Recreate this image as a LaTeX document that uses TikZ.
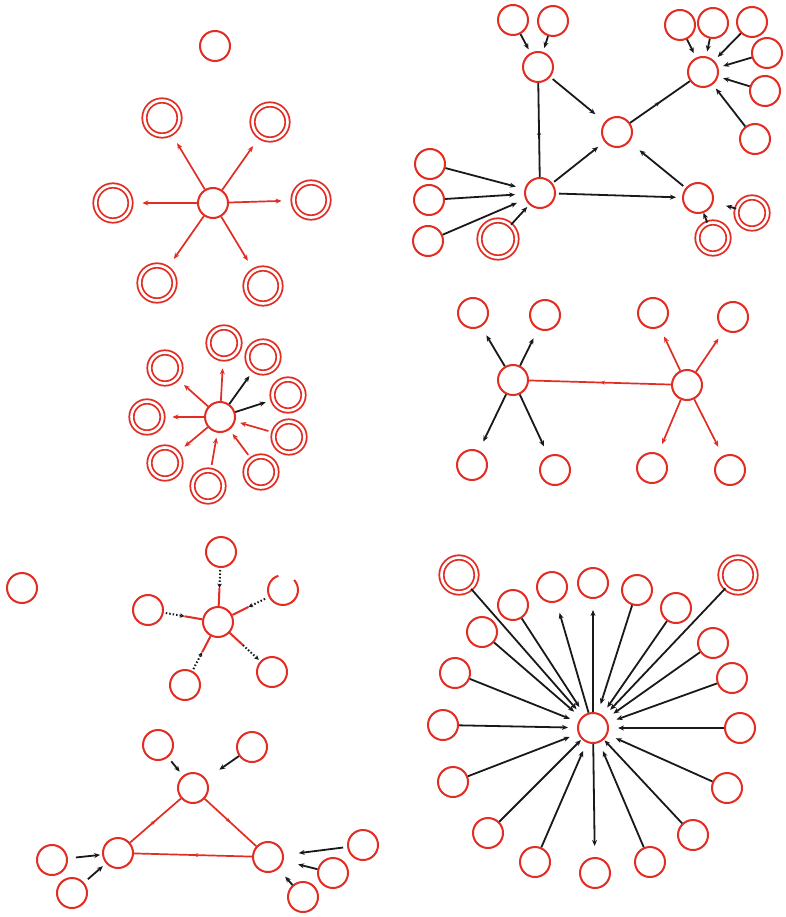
\documentclass[tikz,border=0pt]{standalone}
\usetikzlibrary{arrows.meta,decorations.markings,calc}
\definecolor{rd}{RGB}{226,45,35}
\definecolor{bk}{RGB}{25,25,25}
\tikzset{
 nd/.style={circle,draw=rd,line width=2pt,minimum size=30pt,inner sep=0pt,fill=white},
 dnd/.style={circle,draw=rd,double=white,double distance=2.6pt,line width=1.8pt,minimum size=35pt,inner sep=0pt},
 dns/.style={dnd,minimum size=31pt},
 ra/.style={rd,line width=1.7pt,-{Stealth[length=6pt,width=5pt]}},
 ba/.style={bk,line width=1.8pt,-{Stealth[length=6pt,width=5pt]}},
 rl/.style={rd,line width=1.7pt},
 bl/.style={bk,line width=1.8pt},
 midarr/.style={postaction={decorate},decoration={markings,mark=at position 0.5 with {\arrow{Stealth[length=5pt,width=4pt]}}}},
 dotarr/.style={bk,line width=2pt,dash pattern=on 1.5pt off 2pt,-{Stealth[length=4.5pt,width=4.5pt]}},
 gapc/.style={rd,line width=2pt}
}
\begin{document}
\begin{tikzpicture}[x=1pt,y=-1pt]
\useasboundingbox (0,0) rectangle (785,917);
\fill[white] (0,0) rectangle (785,917);

% ---------- Panel 1 ----------
\node[nd] (p1top) at (215,46) {};
\node[nd] (p1c) at (213,203) {};
\node[dnd] (p1a) at (162,118) {};
\node[dnd] (p1b) at (270,122) {};
\node[dnd] (p1d) at (113,203) {};
\node[dnd] (p1e) at (311,200) {};
\node[dnd] (p1f) at (157,283) {};
\node[dnd] (p1g) at (263,286) {};
\foreach \t in {a,b,d,e,f,g}{\draw[ra,shorten >=11pt] (p1c) -- (p1\t);}

% ---------- Panel 2 ----------
\node[nd] (p2s1) at (513,20) {};
\node[nd] (p2s2) at (553,21) {};
\node[nd] (p2A) at (538,67) {};
\node[nd] (p2B) at (703,72) {};
\node[nd] (p2b1) at (680,25) {};
\node[nd] (p2b2) at (713,23) {};
\node[nd] (p2b3) at (752,22) {};
\node[nd] (p2b4) at (767,53) {};
\node[nd] (p2b5) at (765,91) {};
\node[nd] (p2b6) at (755,139) {};
\node[nd] (p2C) at (617,132) {};
\node[nd] (p2D) at (540,193) {};
\node[nd] (p2E) at (698,198) {};
\node[nd] (p2l1) at (430,164) {};
\node[nd] (p2l2) at (429,200) {};
\node[nd] (p2l3) at (428,241) {};
\node[dnd,minimum size=37pt] (p2dd) at (498,239) {};
\node[dns] (p2e1) at (752,213) {};
\node[dns] (p2e2) at (713,238) {};
\draw[ba,shorten >=4pt] (p2s1) -- (p2A);
\draw[ba,shorten >=4pt] (p2s2) -- (p2A);
\draw[ba,shorten >=12pt,shorten <=3pt] (p2A) -- (p2C);
\draw[ba,shorten >=8pt,shorten <=2pt] (p2D) -- (p2C);
\draw[ba,shorten >=13pt,shorten <=3pt] (p2E) -- (p2C);
\draw[ba,shorten >=6pt,shorten <=3pt] (p2D) -- (p2E);
\draw[bl,midarr] (p2D) -- (p2A);
\draw[bl,midarr] (p2C) -- (p2B);
\foreach \t in {1,2,3}{\draw[ba,shorten >=9pt] (p2l\t) -- (p2D);}
\draw[ba,shorten >=3pt] (p2dd) -- (p2D);
\foreach \t in {1,...,6}{\draw[ba,shorten >=5pt] (p2b\t) -- (p2B);}
\coordinate (p2x1) at ($(p2e1)!27pt!(p2E)$);
\coordinate (p2x2) at ($(p2e2)!27pt!(p2E)$);
\draw[ba] (p2e1) -- (p2x1);
\draw[ba] (p2e2) -- (p2x2);

% ---------- Panel 3 ----------
\node[nd] (p3c) at (220,417) {};
\node[dns] (p3n1) at (224,343) {};
\node[dns] (p3n2) at (263,357) {};
\node[dns] (p3n3) at (288,395) {};
\node[dns] (p3n4) at (289,437) {};
\node[dns] (p3n5) at (261,472) {};
\node[dns] (p3n6) at (208,486) {};
\node[dns] (p3n7) at (165,463) {};
\node[dns] (p3n8) at (147,417) {};
\node[dns] (p3n9) at (165,368) {};
\foreach \t in {1,7,8,9}{\draw[ra,shorten >=9pt] (p3c) -- (p3n\t);}
\foreach \t in {2,3}{\draw[ba,shorten >=7pt] (p3c) -- (p3n\t);}
\foreach \t in {4,5,6}{\draw[ra,shorten >=5pt,shorten <=5pt] (p3n\t) -- (p3c);}

% ---------- Panel 4 ----------
\node[nd] (p4L) at (513,380) {};
\node[nd] (p4R) at (687,385) {};
\node[nd] (p4a) at (473,313) {};
\node[nd] (p4b) at (545,315) {};
\node[nd] (p4c) at (472,465) {};
\node[nd] (p4d) at (555,470) {};
\node[nd] (p4e) at (653,313) {};
\node[nd] (p4f) at (733,317) {};
\node[nd] (p4g) at (652,468) {};
\node[nd] (p4h) at (730,470) {};
\foreach \t in {a,b,c,d}{\draw[ba,shorten >=10pt] (p4L) -- (p4\t);}
\foreach \t in {e,f,g,h}{\draw[ra,shorten >=10pt] (p4R) -- (p4\t);}
\draw[rl,midarr] (p4R) -- (p4L);

% ---------- Panel 5 ----------
\node[nd] (p5lone) at (22,588) {};
\node[nd] (p5h) at (218,622) {};
\node[nd] (p5s1) at (221,552) {};
\node[nd,draw=none] (p5s2) at (283,590) {};
\draw[gapc] ([shift={(108:15pt)}]p5s2.center) arc[start angle=108,end angle=402,radius=15pt];
\node[nd] (p5s3) at (148,610) {};
\node[nd] (p5s4) at (272,672) {};
\node[nd] (p5s5) at (185,685) {};
\foreach \t in {1,2,3,4,5}{
  \coordinate (p5k\t) at ($(p5h)!34pt!(p5s\t)$);
  \draw[rl,line width=2pt] (p5h) -- (p5k\t);
}
\draw[dotarr,shorten <=2pt] (p5s1) -- (p5k1);
\draw[dotarr,shorten <=4pt] (p5s2) -- (p5k2);
\draw[dotarr,shorten <=2pt] (p5s3) -- (p5k3);
\draw[dotarr,shorten >=2pt] (p5k4) -- (p5s4);
\draw[dotarr,shorten <=2pt] (p5s5) -- (p5k5);

% ---------- Panel 6 ----------
\node[nd] (p6T) at (193,788) {};
\node[nd] (p6L) at (118,853) {};
\node[nd] (p6R) at (268,857) {};
\node[nd] (p6a) at (158,745) {};
\node[nd] (p6b) at (252,747) {};
\node[nd] (p6c) at (52,860) {};
\node[nd] (p6d) at (72,893) {};
\node[nd] (p6e) at (363,845) {};
\node[nd] (p6f) at (333,873) {};
\node[nd] (p6g) at (303,897) {};
\draw[rl,midarr] (p6L) -- (p6T);
\draw[rl,midarr] (p6T) -- (p6R);
\draw[rl,midarr] (p6R) -- (p6L);
\draw[ba,shorten >=5pt,shorten <=5pt] (p6a) -- (p6T);
\draw[ba,shorten >=16pt] (p6b) -- (p6T);
\draw[ba,shorten >=2pt,shorten <=8pt] (p6c) -- (p6L);
\draw[ba,shorten >=4pt,shorten <=5pt] (p6d) -- (p6L);
\draw[ba,shorten >=15pt,shorten <=4pt] (p6e) -- (p6R);
\draw[ba,shorten >=15pt] (p6f) -- (p6R);
\draw[ba,shorten >=10pt] (p6g) -- (p6R);

% ---------- Panel 7 ----------
\node[dnd] (p7s1) at (459,575) {};
\node[nd] (p7s2) at (513,605) {};
\node[nd] (p7s3) at (552,587) {};
\node[nd] (p7s4) at (593,583) {};
\node[nd] (p7s5) at (637,590) {};
\node[nd] (p7s6) at (676,608) {};
\node[dnd] (p7s7) at (738,575) {};
\node[nd] (p7s8) at (482,632) {};
\node[nd] (p7s9) at (713,643) {};
\node[nd] (p7s10) at (455,673) {};
\node[nd] (p7s11) at (732,678) {};
\node[nd] (p7s12) at (443,725) {};
\node[nd] (p7s13) at (740,728) {};
\node[nd] (p7s14) at (453,782) {};
\node[nd] (p7s15) at (727,788) {};
\node[nd] (p7s16) at (488,833) {};
\node[nd] (p7s17) at (693,835) {};
\node[nd] (p7s18) at (535,862) {};
\node[nd] (p7s19) at (595,873) {};
\node[nd] (p7s20) at (650,862) {};
\node[nd] (p7h) at (593,728) {};
\foreach \t in {1,2,5,6,7,8,9,10,11,12,13,14,15,18,20}{\draw[ba,shorten >=9pt] (p7s\t) -- (p7h);}
\foreach \t in {16,17}{\draw[ba,shorten >=1pt] (p7s\t) -- (p7h);}
\foreach \t in {3,4,19}{\draw[ba,shorten >=11pt] (p7h) -- (p7s\t);}
\end{tikzpicture}
\end{document}
